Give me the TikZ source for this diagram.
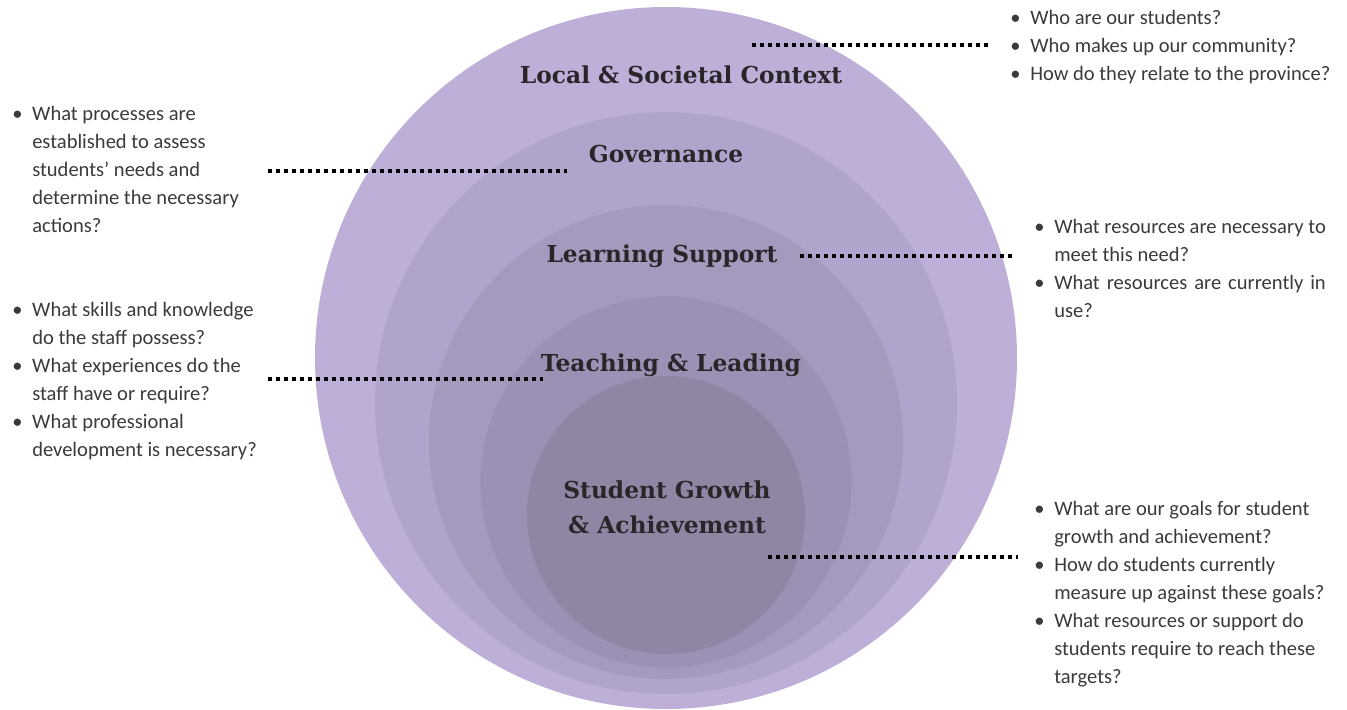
\documentclass[tikz,border=0pt]{standalone}
\usepackage{fontspec}
\setmainfont{Carlito}
\newfontfamily\headfont{DejaVu Serif}
\usepackage{calc}
\usepackage{tikz}
\usetikzlibrary{positioning}

% ring colours, outermost to innermost
\definecolor{ringA}{RGB}{190,175,217}
\definecolor{ringB}{RGB}{176,164,204}
\definecolor{ringC}{RGB}{165,153,190}
\definecolor{ringD}{RGB}{156,145,180}
\definecolor{ringE}{RGB}{143,134,164}
\definecolor{headgray}{RGB}{43,37,42}
\definecolor{textgray}{RGB}{58,58,58}

% bullet and continuation indent for the question lists
\newcommand{\bul}{\makebox[15pt][l]{\textbullet}}
\newcommand{\ind}{\hspace*{15pt}}

\begin{document}
\begin{tikzpicture}[
    x=0.75pt, y=-0.75pt,
    head/.style={font=\headfont\bfseries\fontsize{17.5}{26.25}\selectfont, text=headgray, inner sep=0pt, anchor=base},
    qlist/.style={font=\fontsize{15.4}{21}\selectfont, text=textgray, align=left, inner sep=0pt, anchor=north west},
    dots/.style={draw=black, line width=3.2pt, dash pattern=on 3pt off 3pt},
]
\useasboundingbox (0,0) rectangle (1347,710);

% =========================================================
% nested rings
% =========================================================
\fill[ringA] (666,358) circle (351);
\fill[ringB] (666,403) circle (291);
\fill[ringC] (666,442) circle (237);
\fill[ringD] (666,482) circle (185.5);
\fill[ringE] (666,515) circle (139);

% ring titles
\node[head] (ctx)   at (681,84)  {Local \& Societal Context};
\node[head] (gov)   at (666,162) {Governance};
\node[head] (sup)   at (662,262) {Learning Support};
\node[head] (teach) at (671,371) {Teaching \& Leading};
\node[head, anchor=north, align=center] (stud) at (667,481) {Student Growth\\\& Achievement};

% =========================================================
% questions for each ring
% =========================================================
\node[qlist] (qctx) at (1010,9.5) {%
  \bul Who are our students?\\
  \bul Who makes up our community?\\
  \bul How do they relate to the province?};

\node[qlist] (qgov) at (12,105.5) {%
  \bul What processes are\\
  \ind established to assess\\
  \ind students’ needs and\\
  \ind determine the necessary\\
  \ind actions?};

\node[qlist] (qsup) at (1034,218.5) {%
  \bul What resources are necessary to\\
  \ind meet this need?\\
  \bul \makebox[\widthof{What resources are necessary to}][s]{What resources are currently in}\\
  \ind use?};

\node[qlist] (qteach) at (12,301.5) {%
  \bul What skills and knowledge\\
  \ind do the staff possess?\\
  \bul What experiences do the\\
  \ind staff have or require?\\
  \bul What professional\\
  \ind development is necessary?};

\node[qlist] (qstud) at (1034,500.5) {%
  \bul What are our goals for student\\
  \ind growth and achievement?\\
  \bul How do students currently\\
  \ind measure up against these goals?\\
  \bul What resources or support do\\
  \ind students require to reach these\\
  \ind targets?};

% =========================================================
% dotted leaders
% =========================================================
\coordinate (ctxL) at (752,45);   \coordinate (ctxR) at (990,45);
\coordinate (govL) at (268,171);  \coordinate (govR) at (567,171);
\coordinate (supL) at (800,256);  \coordinate (supR) at (1015,256);
\coordinate (teachL) at (268,379); \coordinate (teachR) at (543,379);
\coordinate (studL) at (768,557); \coordinate (studR) at (1018,557);

\draw[dots] (ctxL) -- (ctxR);
\draw[dots] (govL) -- (govR);
\draw[dots] (supL) -- (supR);
\draw[dots] (teachL) -- (teachR);
\draw[dots] (studL) -- (studR);

\end{tikzpicture}
\end{document}
